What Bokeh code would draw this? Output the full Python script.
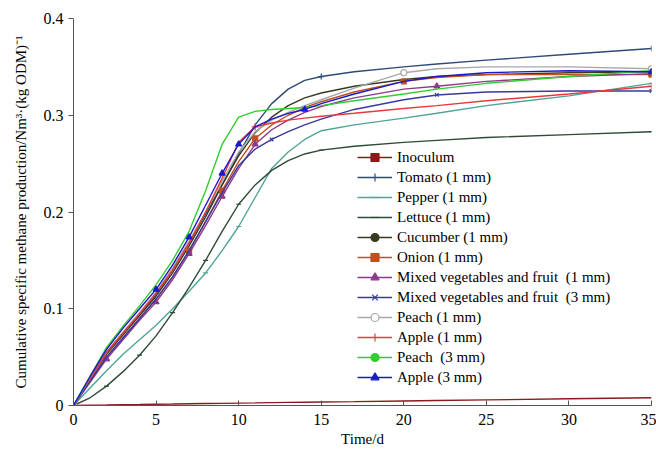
from bokeh.plotting import figure
from bokeh.models import Legend, LegendItem, FixedTicker, Range1d
from bokeh.embed import file_html
from bokeh.resources import INLINE

days = [0, 1, 2, 3, 4, 5, 6, 7, 8, 9, 10, 11, 12, 13, 14, 15, 17, 20, 22, 25, 30, 35]

inoculum = [0, 0.0003, 0.0005, 0.0008, 0.001, 0.0013, 0.0015, 0.0018, 0.002, 0.0022, 0.0025,
            0.0027, 0.003, 0.0032, 0.0034, 0.0036, 0.004, 0.0047, 0.0051, 0.0058, 0.0069, 0.008]
tomato = [0, 0.028, 0.055, 0.075, 0.095, 0.115, 0.14, 0.168, 0.198, 0.228, 0.26, 0.29, 0.312,
          0.327, 0.336, 0.34, 0.345, 0.35, 0.353, 0.357, 0.363, 0.369]
pepper = [0, 0.018, 0.036, 0.053, 0.068, 0.083, 0.1, 0.118, 0.137, 0.16, 0.185, 0.215, 0.245,
          0.262, 0.275, 0.284, 0.29, 0.297, 0.302, 0.31, 0.32, 0.333]
lettuce = [0, 0.008, 0.02, 0.035, 0.052, 0.072, 0.096, 0.122, 0.15, 0.18, 0.208, 0.228, 0.243,
           0.253, 0.26, 0.264, 0.268, 0.272, 0.274, 0.277, 0.28, 0.283]
cucumber = [0, 0.027, 0.053, 0.073, 0.093, 0.113, 0.137, 0.165, 0.195, 0.228, 0.258, 0.282, 0.298,
            0.31, 0.318, 0.323, 0.33, 0.337, 0.34, 0.342, 0.344, 0.345]
onion = [0, 0.026, 0.05, 0.07, 0.09, 0.11, 0.133, 0.16, 0.19, 0.222, 0.252, 0.276, 0.29, 0.3,
         0.308, 0.314, 0.324, 0.335, 0.339, 0.342, 0.342, 0.342]
mixed1 = [0, 0.024, 0.048, 0.068, 0.088, 0.107, 0.13, 0.157, 0.186, 0.216, 0.245, 0.27, 0.285,
          0.295, 0.303, 0.309, 0.318, 0.327, 0.33, 0.335, 0.34, 0.343]
mixed3 = [0, 0.025, 0.05, 0.07, 0.09, 0.11, 0.133, 0.16, 0.19, 0.22, 0.248, 0.265, 0.275, 0.283,
          0.29, 0.296, 0.306, 0.316, 0.321, 0.324, 0.325, 0.325]
peach1 = [0, 0.028, 0.055, 0.076, 0.096, 0.117, 0.142, 0.17, 0.2, 0.232, 0.262, 0.283, 0.295,
          0.303, 0.31, 0.316, 0.328, 0.344, 0.348, 0.35, 0.35, 0.348]
apple1 = [0, 0.028, 0.055, 0.075, 0.095, 0.116, 0.14, 0.168, 0.2, 0.235, 0.272, 0.288, 0.292,
          0.295, 0.297, 0.299, 0.302, 0.307, 0.31, 0.315, 0.322, 0.33]
peach3 = [0, 0.03, 0.06, 0.082, 0.103, 0.125, 0.15, 0.18, 0.222, 0.27, 0.298, 0.304, 0.306, 0.307,
          0.308, 0.31, 0.315, 0.322, 0.327, 0.333, 0.34, 0.346]
apple3 = [0, 0.03, 0.058, 0.08, 0.1, 0.12, 0.145, 0.174, 0.207, 0.24, 0.27, 0.288, 0.296, 0.302,
          0.306, 0.312, 0.322, 0.335, 0.34, 0.344, 0.346, 0.345]

labels = ["Inoculum", "Tomato (1 mm)", "Pepper (1 mm)", "Lettuce (1 mm)", "Cucumber (1 mm)",
          "Onion (1 mm)", "Mixed vegetables and fruit  (1 mm)", "Mixed vegetables and fruit  (3 mm)",
          "Peach (1 mm)", "Apple (1 mm)", "Peach  (3 mm)", "Apple (3 mm)"]
series = [inoculum, tomato, pepper, lettuce, cucumber, onion, mixed1, mixed3, peach1, apple1, peach3, apple3]
marker_days = [[0], [0, 15, 35], [0, 8, 10, 35], [0, 2, 4, 6, 8, 10, 15, 35], [0, 35],
               [0, 7, 9, 11, 20, 35], [0, 2, 5, 7, 9, 11, 22, 35], [0, 12, 22, 35],
               [0, 20, 35], [0, 11, 35], [0, 35], [0, 5, 7, 9, 10, 14, 35]]

colors = ["#8B1A1A", "#2E4A78", "#4FA595", "#2F4A35", "#3A3A20", "#C0501E", "#8E3A8A", "#3838A0",
          "#A8A8A8", "#E83A3A", "#33CC33", "#1A1ACC"]
markers = ["square", "cross", "dash", "dash", "circle", "square", "triangle", "x",
           "circle", "cross", "circle", "triangle"]
msizes = [5, 6, 5, 5, 4, 5, 6, 5, 6, 7, 3, 6]
mfill = [True, True, True, True, True, True, True, True, False, True, True, True]

p = figure(width=656, height=453, output_backend="svg", toolbar_location=None,
           x_range=Range1d(0, 35), y_range=Range1d(0, 0.4),
           min_border_left=73, min_border_right=5, min_border_top=18, min_border_bottom=48)
p.outline_line_color = None
p.xgrid.visible = False
p.ygrid.visible = False

items = []
for lab, vals, mdays, c, m, ms, mf in zip(labels, series, marker_days, colors, markers, msizes, mfill):
    ln = p.line(days, vals, line_color=c, line_width=1.4)
    my = [vals[days.index(d)] for d in mdays]
    sc = p.scatter(mdays, my, marker=m, size=ms, line_color=c,
                   fill_color=(c if mf else "white"), line_width=1.2)
    items.append(LegendItem(label=lab, renderers=[ln, sc]))

legend = Legend(items=items, location=(284, 18), padding=0, margin=0, spacing=0,
                glyph_width=35, glyph_height=20, label_height=20, label_standoff=5,
                label_text_font="Liberation Serif", label_text_font_size="15px",
                label_text_color="black", background_fill_alpha=0, border_line_color=None)
p.add_layout(legend, "center")

font = "Liberation Serif"
p.xaxis.ticker = FixedTicker(ticks=[0, 5, 10, 15, 20, 25, 30, 35])
p.yaxis.ticker = FixedTicker(ticks=[0, 0.1, 0.2, 0.3, 0.4])
p.yaxis.major_label_overrides = {0: "0", 0.1: "0.1", 0.2: "0.2", 0.3: "0.3", 0.4: "0.4"}
p.xaxis.axis_label = "Time/d"
p.yaxis.axis_label = "Cumulative specific methane production/Nm³·(kg ODM)⁻¹"
for ax in (p.xaxis, p.yaxis):
    ax.axis_label_text_font = font
    ax.axis_label_text_font_style = "normal"
    ax.axis_label_text_font_size = "15px"
    ax.major_label_text_font = font
    ax.major_label_text_font_size = "16px"
    ax.major_label_text_color = "black"
    ax.axis_label_text_color = "black"
    ax.axis_line_color = "#555555"
    ax.major_tick_line_color = "#555555"
    ax.minor_tick_line_color = None
p.xaxis.major_tick_in = 5
p.xaxis.major_tick_out = 0
p.yaxis.major_tick_in = 0
p.yaxis.major_tick_out = 5
p.xaxis.axis_label_standoff = 3
p.yaxis.axis_label_standoff = 12
p.xaxis.major_label_standoff = 8

open("out.html", "w").write(file_html(p, INLINE))
